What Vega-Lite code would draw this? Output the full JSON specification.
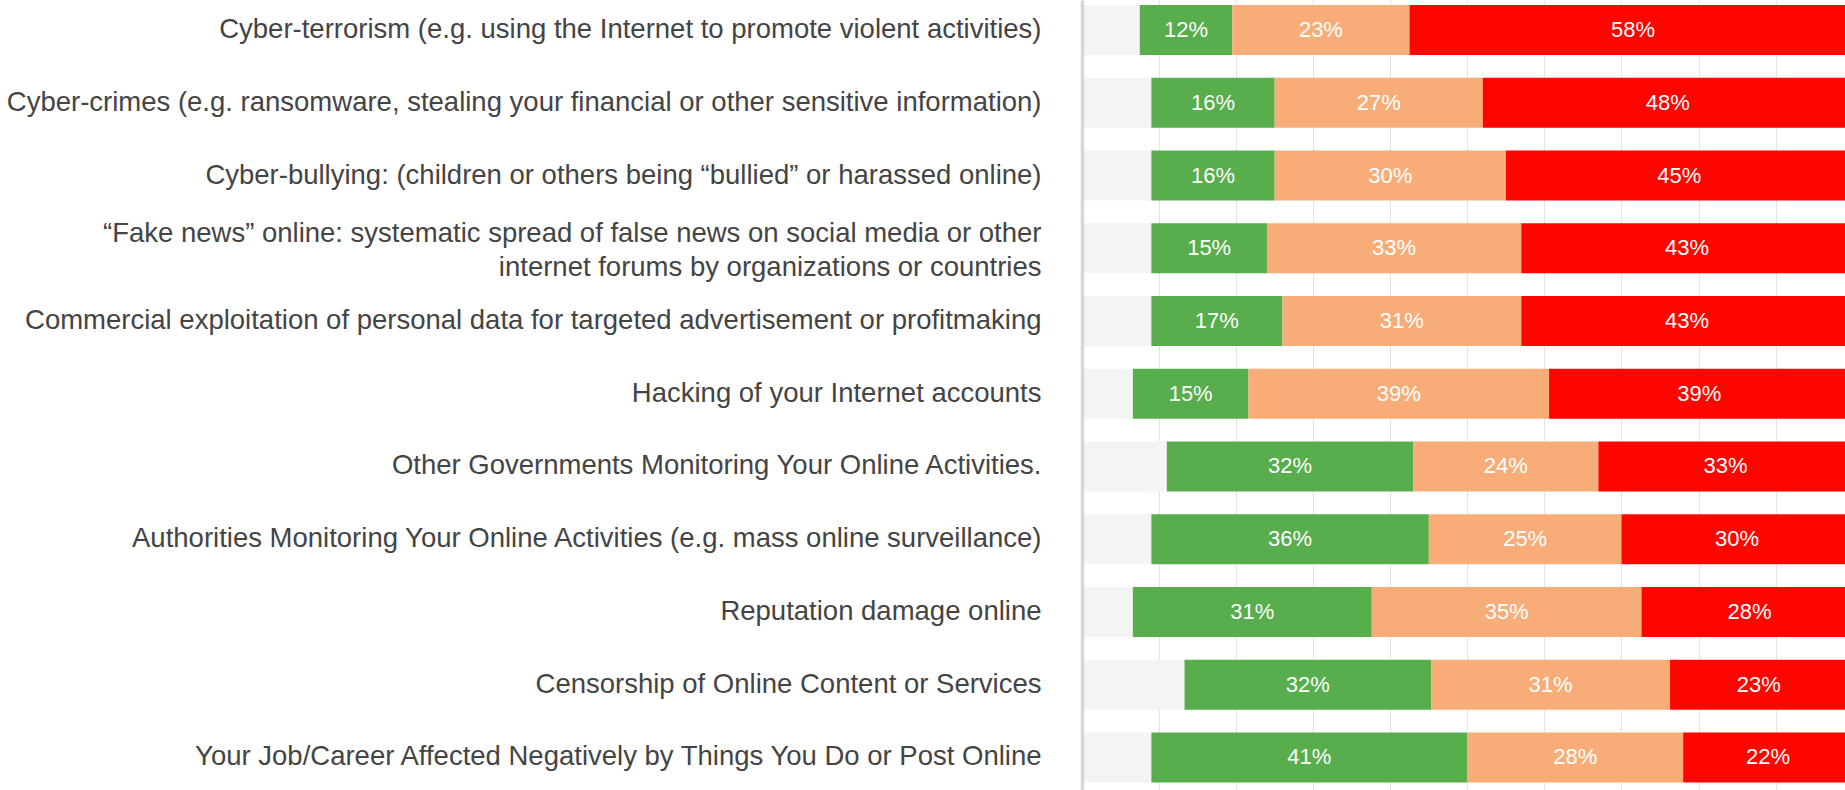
{
  "$schema": "https://vega.github.io/schema/vega-lite/v6.json",
  "autosize": {"type": "none"},
  "padding": {"left": 1082, "top": 0, "right": 0, "bottom": 0},
  "width": 763,
  "height": 790,
  "background": "#ffffff",
  "config": {"view": {"stroke": null}},
  "data": {
    "values": [
      {"item": "Cyber-terrorism (e.g. using the Internet to promote violent activities)", "level": "No answer", "k": 0, "v": 0.075},
      {"item": "Cyber-terrorism (e.g. using the Internet to promote violent activities)", "level": "Not concerned", "k": 1, "v": 0.12},
      {"item": "Cyber-terrorism (e.g. using the Internet to promote violent activities)", "level": "Somewhat concerned", "k": 2, "v": 0.23},
      {"item": "Cyber-terrorism (e.g. using the Internet to promote violent activities)", "level": "Very concerned", "k": 3, "v": 0.58},

      {"item": "Cyber-crimes (e.g. ransomware, stealing your financial or other sensitive information)", "level": "No answer", "k": 0, "v": 0.09},
      {"item": "Cyber-crimes (e.g. ransomware, stealing your financial or other sensitive information)", "level": "Not concerned", "k": 1, "v": 0.16},
      {"item": "Cyber-crimes (e.g. ransomware, stealing your financial or other sensitive information)", "level": "Somewhat concerned", "k": 2, "v": 0.27},
      {"item": "Cyber-crimes (e.g. ransomware, stealing your financial or other sensitive information)", "level": "Very concerned", "k": 3, "v": 0.48},

      {"item": "Cyber-bullying: (children or others being “bullied” or harassed online)", "level": "No answer", "k": 0, "v": 0.09},
      {"item": "Cyber-bullying: (children or others being “bullied” or harassed online)", "level": "Not concerned", "k": 1, "v": 0.16},
      {"item": "Cyber-bullying: (children or others being “bullied” or harassed online)", "level": "Somewhat concerned", "k": 2, "v": 0.30},
      {"item": "Cyber-bullying: (children or others being “bullied” or harassed online)", "level": "Very concerned", "k": 3, "v": 0.45},

      {"item": "“Fake news” online: systematic spread of false news on social media or other|internet forums by organizations or countries", "level": "No answer", "k": 0, "v": 0.09},
      {"item": "“Fake news” online: systematic spread of false news on social media or other|internet forums by organizations or countries", "level": "Not concerned", "k": 1, "v": 0.15},
      {"item": "“Fake news” online: systematic spread of false news on social media or other|internet forums by organizations or countries", "level": "Somewhat concerned", "k": 2, "v": 0.33},
      {"item": "“Fake news” online: systematic spread of false news on social media or other|internet forums by organizations or countries", "level": "Very concerned", "k": 3, "v": 0.43},

      {"item": "Commercial exploitation of personal data for targeted advertisement or profitmaking", "level": "No answer", "k": 0, "v": 0.09},
      {"item": "Commercial exploitation of personal data for targeted advertisement or profitmaking", "level": "Not concerned", "k": 1, "v": 0.17},
      {"item": "Commercial exploitation of personal data for targeted advertisement or profitmaking", "level": "Somewhat concerned", "k": 2, "v": 0.31},
      {"item": "Commercial exploitation of personal data for targeted advertisement or profitmaking", "level": "Very concerned", "k": 3, "v": 0.43},

      {"item": "Hacking of your Internet accounts", "level": "No answer", "k": 0, "v": 0.066},
      {"item": "Hacking of your Internet accounts", "level": "Not concerned", "k": 1, "v": 0.15},
      {"item": "Hacking of your Internet accounts", "level": "Somewhat concerned", "k": 2, "v": 0.39},
      {"item": "Hacking of your Internet accounts", "level": "Very concerned", "k": 3, "v": 0.39},

      {"item": "Other Governments Monitoring Your Online Activities.", "level": "No answer", "k": 0, "v": 0.11},
      {"item": "Other Governments Monitoring Your Online Activities.", "level": "Not concerned", "k": 1, "v": 0.32},
      {"item": "Other Governments Monitoring Your Online Activities.", "level": "Somewhat concerned", "k": 2, "v": 0.24},
      {"item": "Other Governments Monitoring Your Online Activities.", "level": "Very concerned", "k": 3, "v": 0.33},

      {"item": "Authorities Monitoring Your Online Activities (e.g. mass online surveillance)", "level": "No answer", "k": 0, "v": 0.09},
      {"item": "Authorities Monitoring Your Online Activities (e.g. mass online surveillance)", "level": "Not concerned", "k": 1, "v": 0.36},
      {"item": "Authorities Monitoring Your Online Activities (e.g. mass online surveillance)", "level": "Somewhat concerned", "k": 2, "v": 0.25},
      {"item": "Authorities Monitoring Your Online Activities (e.g. mass online surveillance)", "level": "Very concerned", "k": 3, "v": 0.30},

      {"item": "Reputation damage online", "level": "No answer", "k": 0, "v": 0.066},
      {"item": "Reputation damage online", "level": "Not concerned", "k": 1, "v": 0.31},
      {"item": "Reputation damage online", "level": "Somewhat concerned", "k": 2, "v": 0.35},
      {"item": "Reputation damage online", "level": "Very concerned", "k": 3, "v": 0.28},

      {"item": "Censorship of Online Content or Services\u2008", "level": "No answer", "k": 0, "v": 0.133},
      {"item": "Censorship of Online Content or Services\u2008", "level": "Not concerned", "k": 1, "v": 0.32},
      {"item": "Censorship of Online Content or Services\u2008", "level": "Somewhat concerned", "k": 2, "v": 0.31},
      {"item": "Censorship of Online Content or Services\u2008", "level": "Very concerned", "k": 3, "v": 0.23},

      {"item": "Your Job/Career Affected Negatively by Things You Do or Post Online", "level": "No answer", "k": 0, "v": 0.09},
      {"item": "Your Job/Career Affected Negatively by Things You Do or Post Online", "level": "Not concerned", "k": 1, "v": 0.41},
      {"item": "Your Job/Career Affected Negatively by Things You Do or Post Online", "level": "Somewhat concerned", "k": 2, "v": 0.28},
      {"item": "Your Job/Career Affected Negatively by Things You Do or Post Online", "level": "Very concerned", "k": 3, "v": 0.22}
    ]
  },
  "transform": [
    {"stack": "v", "groupby": ["item"], "sort": [{"field": "k", "order": "ascending"}], "as": ["v0", "v1"]}
  ],
  "encoding": {
    "y": {
      "field": "item",
      "type": "nominal",
      "sort": null,
      "scale": {"paddingInner": 0.3127, "paddingOuter": 0.086, "align": 0.4},
      "axis": {
        "title": null,
        "orient": "left",
        "ticks": false,
        "grid": false,
        "domain": true,
        "domainColor": "#dad6d2",
        "domainWidth": 3.5,
        "labelFont": "Liberation Sans",
        "labelFontSize": 27.5,
        "labelColor": "#444444",
        "labelAlign": "right",
        "labelBaseline": "middle",
        "labelPadding": 41,
        "labelLimit": 1100,
        "labelLineHeight": 34,
        "labelOffset": {"condition": {"test": "indexof(datum.value, '|') >= 0", "value": -14}, "value": 0},
        "labelExpr": "split(datum.label, '|')",
        "zindex": 2
      }
    }
  },
  "layer": [
    {
      "mark": {"type": "bar", "clip": true},
      "encoding": {
        "x": {
          "field": "v0",
          "type": "quantitative",
          "scale": {"domain": [0, 0.99], "nice": false, "zero": true},
          "axis": {
            "title": null,
            "labels": false,
            "ticks": false,
            "domain": false,
            "grid": true,
            "gridColor": "#e3e3e3",
            "gridWidth": 1,
            "values": [0.1, 0.2, 0.3, 0.4, 0.5, 0.6, 0.7, 0.8, 0.9]
          }
        },
        "x2": {"field": "v1"},
        "color": {
          "field": "level",
          "type": "nominal",
          "scale": {
            "domain": ["No answer", "Not concerned", "Somewhat concerned", "Very concerned"],
            "range": ["#f4f4f4", "#58ad4c", "#f8ad78", "#ff0500"]
          },
          "legend": null
        }
      }
    },
    {
      "transform": [
        {"filter": "datum.k > 0"},
        {"calculate": "(datum.v0 + datum.v1) / 2", "as": "mid"}
      ],
      "mark": {"type": "text", "color": "#ffffff", "font": "Liberation Sans", "fontSize": 22, "align": "center", "baseline": "middle", "clip": true},
      "encoding": {
        "x": {"field": "mid", "type": "quantitative"},
        "text": {"field": "v", "type": "quantitative", "format": ".0%"}
      }
    }
  ]
}
